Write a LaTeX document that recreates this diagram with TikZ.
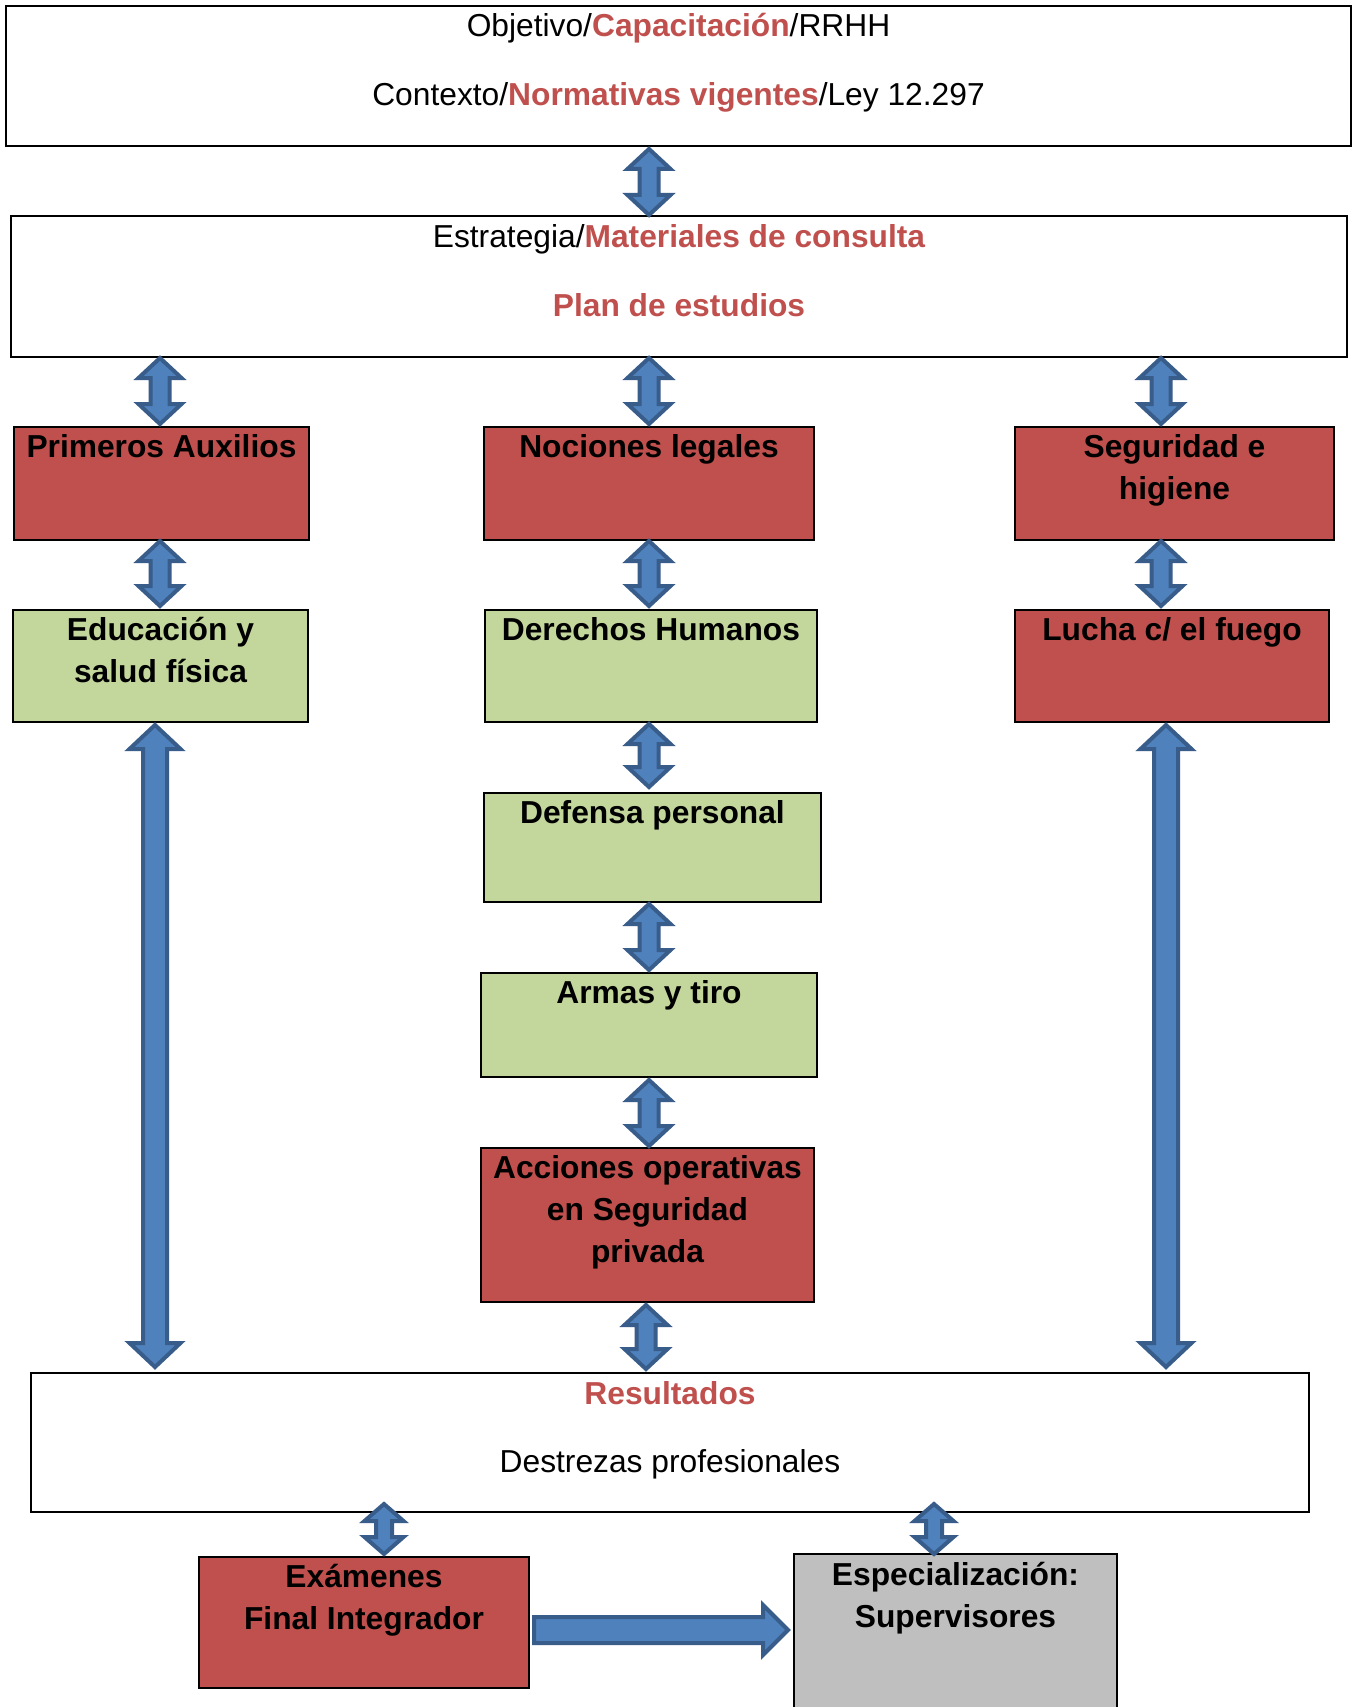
\documentclass[tikz,border=0pt]{standalone}
\usepackage{fontspec}
\setmainfont{Liberation Sans}
\usetikzlibrary{calc}
\definecolor{boxred}{HTML}{C0504D}
\definecolor{boxgreen}{HTML}{C3D69B}
\definecolor{boxgray}{HTML}{BFBFBF}
\definecolor{arrowfill}{HTML}{4F81BD}
\definecolor{arrowline}{HTML}{385D8A}
\definecolor{hilite}{HTML}{C0504D}

% vertical double-headed block arrow: x, top tip, bottom tip, head half-width, shaft half-width, head length
\newcommand\dblarrow[6]{%
  \filldraw[barrow] let \p1=#2, \p2=#3 in
    (#1pt,\y1) -- ({#1pt+#4pt},{\y1-#6pt}) -- ({#1pt+#5pt},{\y1-#6pt})
    -- ({#1pt+#5pt},{\y2+#6pt}) -- ({#1pt+#4pt},{\y2+#6pt}) -- (#1pt,\y2)
    -- ({#1pt-#4pt},{\y2+#6pt}) -- ({#1pt-#5pt},{\y2+#6pt})
    -- ({#1pt-#5pt},{\y1-#6pt}) -- ({#1pt-#4pt},{\y1-#6pt}) -- cycle;}
\newcommand\shortlink[3]{\dblarrow{#1}{#2}{#3}{21.5}{9.5}{20}}
\newcommand\longlink[3]{\dblarrow{#1}{#2}{#3}{25.5}{12}{24}}
\newcommand\tinylink[3]{\dblarrow{#1}{#2}{#3}{19.5}{8}{17}}
\newcommand\hl[1]{\textbf{\color{hilite}#1}}

\begin{document}
\begin{tikzpicture}[x=1pt,y=-1pt,
  font=\fontsize{31.75}{42}\selectfont,
  frame/.style={draw=black,line width=2pt,anchor=north west,inner sep=0pt},
  whitebox/.style={frame,fill=white},
  redbox/.style={frame,fill=boxred},
  greenbox/.style={frame,fill=boxgreen},
  graybox/.style={frame,fill=boxgray},
  lbl/.style={anchor=base,align=center,inner sep=0pt,font=\fontsize{31.75}{42}\selectfont\bfseries},
  txt/.style={anchor=base,inner sep=0pt},
  barrow/.style={fill=arrowfill,draw=arrowline,line width=4pt,line join=miter}]

\clip (0,0) rectangle (1355,1707);
\fill[white] (0,0) rectangle (1355,1707);

% upper framing boxes
\node[whitebox,minimum width=1345,minimum height=140] (obj) at (5,5) {};
\node[txt] at ([yshift=-32pt]obj.north) {Objetivo/\hl{Capacitación}/RRHH};
\node[txt] at ([yshift=-101pt]obj.north) {Contexto/\hl{Normativas vigentes}/Ley 12.297};

\node[whitebox,minimum width=1336,minimum height=141] (est) at (10,215) {};
\node[txt] at ([yshift=-32pt]est.north) {Estrategia/\hl{Materiales de consulta}};
\node[txt] at ([yshift=-101pt]est.north) {\hl{Plan de estudios}};

% first row (label anchors sit on the last line's baseline)
\node[redbox,minimum width=295,minimum height=113] (pa) at (13,426) {};
\node[lbl] at ([yshift=-31pt]pa.north) {Primeros Auxilios};
\node[redbox,minimum width=330,minimum height=113] (nl) at (483,426) {};
\node[lbl] at ([yshift=-31pt]nl.north) {Nociones legales};
\node[redbox,minimum width=319,minimum height=113] (sh) at (1014,426) {};
\node[lbl] at ([yshift=-73pt]sh.north) {Seguridad e\\higiene};

% second row
\node[greenbox,minimum width=295,minimum height=112] (ed) at (12,609) {};
\node[lbl] at ([yshift=-73pt]ed.north) {Educación y\\salud física};
\node[greenbox,minimum width=332,minimum height=112] (dh) at (484,609) {};
\node[lbl] at ([yshift=-31pt]dh.north) {Derechos Humanos};
\node[redbox,minimum width=314,minimum height=112] (lf) at (1014,609) {};
\node[lbl] at ([yshift=-31pt]lf.north) {Lucha c/ el fuego};

% central column
\node[greenbox,minimum width=337,minimum height=109] (dp) at (483,792) {};
\node[lbl] at ([yshift=-31pt]dp.north) {Defensa personal};
\node[greenbox,minimum width=336,minimum height=104] (at) at (480,972) {};
\node[lbl] at ([yshift=-31pt]at.north) {Armas y tiro};
\node[redbox,minimum width=333,minimum height=154] (ao) at (480,1147) {};
\node[lbl] at ([yshift=-115pt]ao.north) {Acciones operativas\\en Seguridad\\privada};

% results
\node[whitebox,minimum width=1278,minimum height=139] (res) at (30,1372) {};
\node[txt] at ([yshift=-32pt]res.north) {\hl{Resultados}};
\node[txt] at ([yshift=-100pt]res.north) {Destrezas profesionales};

% final stage
\node[redbox,minimum width=330,minimum height=131] (ex) at (198,1556) {};
\node[lbl] at ([yshift=-73pt]ex.north) {Exámenes\\Final Integrador};
\node[graybox,minimum width=323,minimum height=170] (es) at (793,1553) {};
\node[lbl] at ([yshift=-74pt]es.north) {Especialización:\\Supervisores};

% connectors
\shortlink{649}{([yshift=-2pt]obj.south)}{(est.north)}
\shortlink{160}{(est.south)}{([yshift=2pt]pa.north)}
\shortlink{649}{(est.south)}{([yshift=2pt]nl.north)}
\shortlink{1161}{(est.south)}{([yshift=2pt]sh.north)}
\shortlink{160}{(pa.south)}{([yshift=3pt]ed.north)}
\shortlink{649}{(nl.south)}{([yshift=3pt]dh.north)}
\shortlink{1161}{(sh.south)}{([yshift=3pt]lf.north)}
\longlink{155}{([yshift=-2pt]ed.south)}{([yshift=5pt]res.north)}
\longlink{1166}{([yshift=-2pt]lf.south)}{([yshift=5pt]res.north)}
\shortlink{649}{([yshift=-1pt]dh.south)}{([yshift=5pt]dp.north)}
\shortlink{649}{([yshift=-1pt]dp.south)}{([yshift=2pt]at.north)}
\shortlink{649}{([yshift=-2pt]at.south)}{([yshift=1pt]ao.north)}
\shortlink{646}{([yshift=-2pt]ao.south)}{([yshift=3pt]res.north)}
\tinylink{384}{([yshift=9pt]res.south)}{([yshift=2pt]ex.north)}
\tinylink{934}{([yshift=9pt]res.south)}{([yshift=-1pt]es.north)}

% forward arrow from exams to specialisation
\filldraw[barrow] let \p1=([xshift=4pt]ex.east), \p2=([xshift=-5pt]es.west) in
  (\x1,1617) -- ({\x2-25pt},1617) -- ({\x2-25pt},1605) -- (\x2,1630)
  -- ({\x2-25pt},1655) -- ({\x2-25pt},1643) -- (\x1,1643) -- cycle;
\end{tikzpicture}
\end{document}
